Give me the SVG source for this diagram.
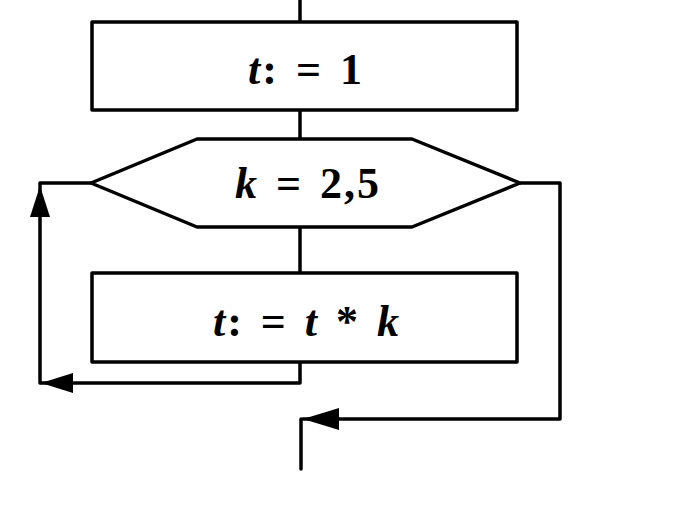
<svg xmlns="http://www.w3.org/2000/svg" width="674" height="505" viewBox="0 0 674 505">
<style>
.shape{fill:#fff;stroke:#000;stroke-width:3.5;stroke-linejoin:round}
.line{fill:none;stroke:#000;stroke-width:3.5;stroke-linejoin:round;stroke-linecap:round}
.lbl{font-family:"Liberation Serif","DejaVu Serif",serif;font-weight:bold;font-size:44px;letter-spacing:2px;word-spacing:4px;fill:#000;text-anchor:middle}
.v{font-style:italic}
</style>
<g id="connectors">
<path class="line" d="M300,0 V22"/>
<path class="line" d="M300,110 V138"/>
<path class="line" d="M300,227 V273"/>
<path class="line" d="M300,362 V383 H41"/>
<path d="M41,383 L73,373 L73,393 Z" fill="#000"/>
<path class="line" d="M40,383 V183 H91"/>
<path d="M40,186 L30,217 L50,217 Z" fill="#000"/>
<path class="line" d="M520,183 H560 V419 H303"/>
<path d="M303,419 L339,408 L339,430 Z" fill="#000"/>
<path class="line" d="M301,419 V469"/>
</g>
<g id="n1">
<rect class="shape" x="92" y="22" width="425" height="88"/>
<text class="lbl" x="306" y="84"><tspan class="v">t</tspan>: = 1</text>
</g>
<g id="n2">
<polygon class="shape" points="91,183 197,139 412,139 520,183 412,227 197,227"/>
<text class="lbl" x="308" y="198"><tspan class="v">k</tspan> = 2,5</text>
</g>
<g id="n3">
<rect class="shape" x="92" y="273" width="425" height="89"/>
<text class="lbl" x="307" y="336"><tspan class="v">t</tspan>: = <tspan class="v">t</tspan> * <tspan class="v">k</tspan></text>
</g>
</svg>
